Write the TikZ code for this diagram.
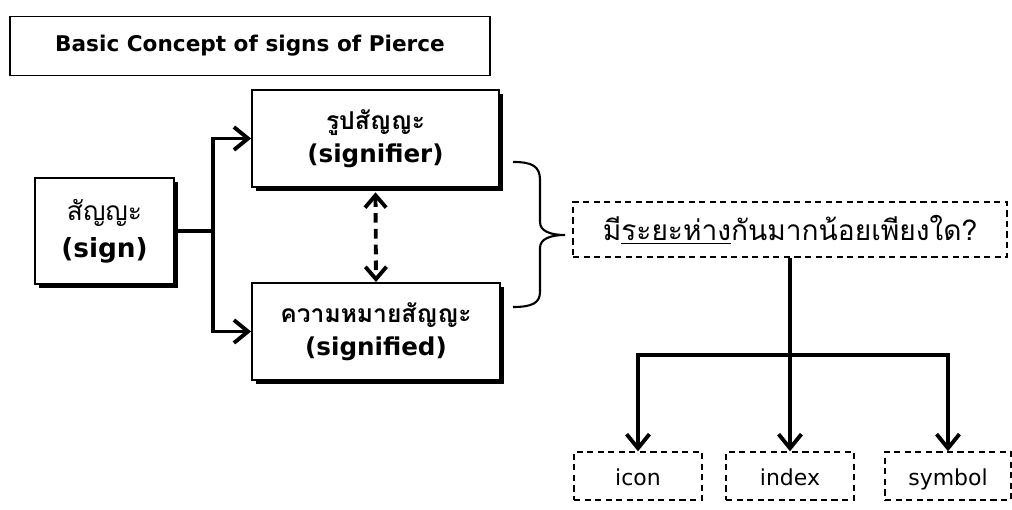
\documentclass[tikz,border=0pt]{standalone}
\usepackage{fontspec}
\setmainfont{DejaVu Sans}
\newfontfamily\thai[Script=Thai]{Loma}
\usetikzlibrary{arrows.meta, positioning, shadows}

\tikzset{
  box/.style={draw, line width=1.1pt, fill=white, align=center, inner sep=0pt},
  shbox/.style={box, drop shadow={shadow xshift=2.4pt, shadow yshift=-2.4pt, fill=black, opacity=1}},
  dbox/.style={draw, line width=0.8pt, dash pattern=on 3.5pt off 2.5pt, align=center, inner sep=0pt},
  kindbox/.style={dbox, minimum width=2.56cm, minimum height=0.96cm, text height=2.1ex, text depth=0.2ex, font=\fontsize{12.5}{15}\selectfont},
  link/.style={line width=2.2pt},
  arr/.style={link, -{Straight Barb[length=8pt, width=13pt]}},
}

\begin{document}
\begin{tikzpicture}[x=0.02cm, y=-0.02cm]
  \useasboundingbox (0,0) rectangle (1012,510);

  % title
  \node[box, minimum width=9.6cm, minimum height=1.18cm, font=\fontsize{12.3}{14}\selectfont\bfseries] (title) at (250,46) {Basic Concept of signs of Pierce};

  % sign and its two sides
  \node[shbox, minimum width=2.78cm, minimum height=2.12cm, font=\fontsize{15}{21}\selectfont] (sign) at (104.5,231) {{\thai\fontsize{15}{21}\selectfont สัญญะ}\\\textbf{(sign)}};
  \node[shbox, minimum width=4.94cm, minimum height=1.94cm, font=\fontsize{14}{19}\selectfont\bfseries] (signifier) at (375.5,138.5) {{\thai รูปสัญญะ}\\(signifier)};
  \node[shbox, minimum width=4.96cm, minimum height=1.94cm, font=\fontsize{14}{19}\selectfont\bfseries] (signified) at (376,331.5) {{\thai ความหมายสัญญะ}\\(signified)};

  \coordinate (fork) at (213,231);
  \draw[link] (sign.east) -- (fork);
  \draw[arr] (fork) |- (signifier.west);
  \draw[arr] (fork) |- (signified.west);
  \draw[arr, {Straight Barb[length=7pt, width=12pt]}-{Straight Barb[length=7pt, width=12pt]}, dash pattern=on 5.5pt off 3.5pt] ([yshift=-2.5pt]signifier.south) -- (signified.north);

  % brace
  \draw[line width=1.2pt] (513,162) .. controls (532,162) and (540,166) .. (540,180) -- (540,222)
    .. controls (540,231) and (550,235) .. (565,235)
    .. controls (550,235) and (540,239) .. (540,248) -- (540,292)
    .. controls (540,303) and (532,307) .. (513,307);

  % question and the three kinds
  \node[dbox, minimum width=8.68cm, minimum height=1.1cm, font=\thai\fontsize{16}{18}\selectfont] (question) at (790,229.5) {มี\underline{ระยะห่าง}กันมากน้อยเพียงใด?};
  \node[kindbox] (icon) at (638,476) {icon};
  \node[kindbox] (index) at (790,476) {index};
  \node[kindbox, minimum width=2.52cm] (symbol) at (948,476) {symbol};

  \coordinate (split) at (790,355);
  \draw[link] (question.south) -- (split);
  \draw[arr] (split) -| (icon.north);
  \draw[arr] (split) -- (index.north);
  \draw[arr] (split) -| (symbol.north);
\end{tikzpicture}
\end{document}
